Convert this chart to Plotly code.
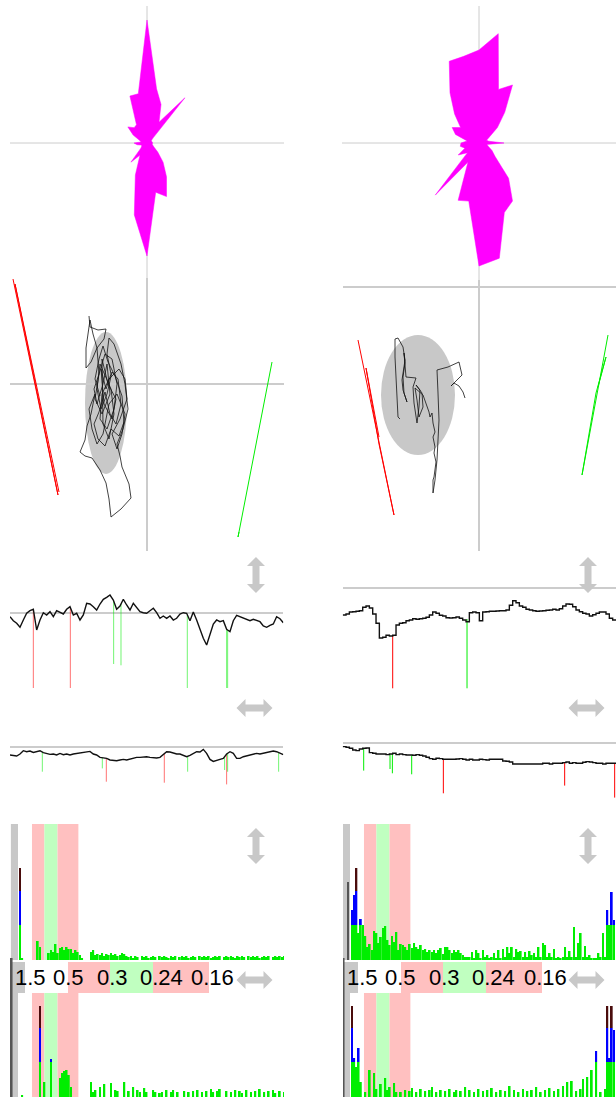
import numpy as np
import plotly.graph_objects as go

W, H = 616, 1097

# ---------------- data ----------------
ROSE_DIR = [0, 10, 20, 30, 40, 50, 60, 70, 80, 90, 100, 110, 120, 130, 140, 150, 160, 170,
            180, 190, 200, 210, 220, 230, 240, 250, 260, 270, 280, 290, 300, 310, 320, 330, 340, 350]
ROSE_L = [123, 55, 41, 24, 59, 8, 5, 5, 5, 6, 5, 6, 8, 14, 25, 39, 57, 50,
          113, 73, 34, 14, 25, 8, 6, 6, 10, 13, 6, 8, 16, 25, 20, 21, 50, 50]
ROSE_R = [93, 111, 57, 67, 40, 24, 12, 8, 10, 25, 8, 10, 15, 21, 46, 67, 74, 117,
          123, 59, 61, 22, 68, 15, 24, 15, 19, 18, 12, 25, 31, 24, 38, 58, 87, 88]

TRAJ_L = [(-58, 68), (-57, 57), (-49, 54), (-41, 55), (-43, 45), (-50, 36), (-56, 22), (-61, 16),
          (-61, 36), (-59, 52), (-57, 64), (-54, 50), (-50, 36), (-48, 10), (-53, -5), (-50, -20),
          (-44, 0), (-40, 20), (-37, -10), (-45, -30), (-52, -15), (-48, 10), (-42, 30), (-35, 25),
          (-30, 0), (-33, -25), (-40, -45), (-47, -35), (-45, -10), (-38, 5), (-28, 15), (-22, 5),
          (-20, -15), (-27, -35), (-35, -50), (-30, -65), (-25, -50), (-22, -30), (-30, -10),
          (-38, -20), (-44, -50), (-50, -60), (-55, -45), (-58, -25), (-52, -10), (-56, -30),
          (-60, -42), (-62, -56), (-67, -68), (-62, -72), (-55, -74), (-47, -86), (-41, -99),
          (-38, -115), (-36, -133), (-26, -125), (-16, -114), (-18, -100), (-25, -83), (-27, -72),
          (-30, -60), (-24, -45), (-19, -25), (-22, 0), (-26, 20), (-33, 40), (-38, 46), (-40, 30),
          (-36, 10), (-41, -5), (-46, 15), (-43, -20), (-35, -35), (-31, -15), (-39, 0), (-45, 25),
          (-44, -40), (-38, -55), (-33, -30), (-36, -5), (-47, 20), (-50, -5), (-46, -25),
          (-40, -10), (-35, 12), (-29, 5), (-26, -20), (-31, -40), (-37, -30), (-42, -8),
          (-48, -28), (-53, -40), (-49, -55), (-42, -62), (-36, -45), (-28, -52), (-23, -38),
          (-25, -12), (-32, 8), (-39, 22), (-44, 38), (-48, 25), (-52, 5), (-47, -12)]
TRAJ_R = [(-79, -132), (-81, -130), (-82, -110), (-83, -90), (-84, -70), (-84, -52), (-81, -51),
          (-76, -60), (-74, -73), (-77, -93), (-76, -103), (-72, -115), (-75, -106), (-76, -90),
          (-74, -76), (-75, -66), (-73, -90), (-63, -91), (-66, -100), (-65, -116), (-62, -136),
          (-60, -120), (-59, -103), (-63, -98), (-57, -106), (-56, -120), (-60, -130), (-62, -113),
          (-64, -101), (-56, -108), (-53, -116), (-50, -125), (-49, -130), (-47, -126), (-46, -136),
          (-44, -145), (-46, -150), (-44, -160), (-45, -166), (-43, -175), (-45, -190), (-46, -193),
          (-46, -206), (-44, -193), (-42, -173), (-41, -153), (-40, -133), (-41, -106), (-42, -83),
          (-31, -80), (-20, -75), (-17, -88), (-24, -95), (-28, -99), (-25, -96), (-20, -99),
          (-16, -105), (-14, -111)]
RED_L_X, RED_L_Y = [-134, -89, -132, -88], [105, -111, 100, -108]
GREEN_L_X, GREEN_L_Y = [125, 91, 123, 92], [22, -153, 15, -148]
RED_R_X, RED_R_Y = [-121, -85, -100, -113, -100], [-53, -228, -157, -81, -150]
GREEN_R_X, GREEN_R_Y = [129, 103, 117, 127, 119], [-48, -188, -106, -70, -100]
ELLIPSE_L_CENTER, ELLIPSE_L_SEMI = [-41, -19], [21, 71]
ELLIPSE_R_CENTER, ELLIPSE_R_SEMI = [-61, -108], [37, 60]

TS1_L = [-3.7, -7.7, -10.3, -14.3, -7, -0.3, 2.3, 3.7, -17, -7,
         0.3, -2, 1.3, -3.7, 2.3, 0.3, -1, 3.7, 6.3, -2,
         -0.3, -7, -2, 9.7, 9, 6.3, 3, 9, 13.7, 15.7,
         18, 13, 3.7, 7, 13.7, 8, 3, 9.7, 5.7, 1.3,
         0.3, -0.3, 2.3, 4.7, 0.3, -5.3, -3, -5.3, -3, -7,
         -5.3, -1, 0.3, -0.3, -7.7, 1, -7, -17, -25.3, -32,
         -22, -11, -7, -8.7, -7.7, -16.3, -18.7, -7.7, -2.3, -3.7,
         -5.3, -7, -7.7, -6.3, -7.7, -8.7, -13, -14.3, -12.3, -11,
         -3.7, -5.7, -9.7]
TS1_R = [-27, -26, -24, -23.7, -23.3, -22.7, -19.3, -18, -20, -26,
         -35.3, -50, -49.3, -47.3, -48, -47.3, -37, -35.3, -34.7, -32.7,
         -32, -30.7, -31.3, -30.7, -30.3, -29.3, -27, -24, -25.3, -27.3,
         -28, -29.7, -30, -29.7, -29, -30.3, -32, -33.7, -24.7, -24,
         -24.7, -32.7, -24, -23.7, -23.3, -23.3, -23, -22.7, -22.7, -22,
         -17.3, -12.7, -14.7, -18, -19.3, -21.3, -22, -22.7, -23.3, -23,
         -22.7, -22.3, -22, -21.3, -22, -20.7, -18, -16, -16.3, -18.7,
         -22, -23.7, -25.3, -26, -28, -26.7, -25.3, -24, -24, -26,
         -30.3, -32, -31.7]
TS2_L = [-8.3, -9, -9.3, -7.3, -4, -5, -4.3, -5.7, -5, -4,
         -6, -6.7, -7.7, -7.3, -8.3, -6.7, -8, -7.3, -8.3, -7.3,
         -6.7, -6, -5.7, -5, -4.7, -7.3, -8.3, -10.7, -11.3, -11.7,
         -13.3, -14, -14, -13.3, -12.7, -13.3, -12.3, -11.7, -10.7, -10.7,
         -10, -10, -10.7, -11.3, -11.3, -10.7, -8, -5, -5.3, -6.7,
         -7.3, -7.3, -8.3, -10, -8.7, -6.7, -5, -5.3, -2.7, -6.7,
         -12.7, -14.7, -13.3, -12.7, -11.7, -7.3, -5, -6.7, -11.7, -11.7,
         -10, -9.3, -8.3, -7.3, -6.7, -7.3, -6.7, -6, -5, -4.3,
         -5, -6.7, -8]
TS2_R = [-3.3, -4, -5, -6.7, -7.3, -5.7, -5, -4.7, -9.3, -10,
         -10.7, -10.7, -10.7, -11.3, -10.7, -10, -11.3, -10.7, -11.3, -11.7,
         -11.7, -12, -11.3, -12, -12.7, -14, -15.3, -16, -15, -15.3,
         -16, -16, -16, -16, -15.7, -15.3, -16, -16.7, -16, -16.7,
         -16.7, -16, -16.3, -16.7, -16, -16, -16, -16, -17.7, -18,
         -18.7, -20.7, -20.7, -20.7, -20.7, -20.7, -20.7, -20.7, -20.7, -20.7,
         -20, -20, -20.7, -20, -20, -20, -19.3, -18.7, -20, -19.3,
         -20, -20, -19, -18.3, -18.7, -19.3, -20, -20, -20.7, -20,
         -20, -20, -20]
# events: (sample index, end value, kind)
EV1_L = [(7, -75, "r"), (18.1, -75, "r"), (31.1, -51, "g"), (33.3, -52.3, "g"),
         (53.2, -75, "g"), (65, -75, "g"), (65.3, -75, "g")]
EV1_R = [(15, -100.3, "r"), (37.3, -100.3, "g")]
EV2_L = [(9.7, -25, "g"), (27.7, -21.7, "g"), (28.9, -35, "r"), (46.3, -36, "r"),
         (53.3, -25, "g"), (64.4, -23.3, "g"), (65, -37.7, "r"), (65.3, -25, "g"), (80.6, -25, "g")]
EV2_R = [(6.3, -27.3, "g"), (14.2, -25.7, "g"), (14.9, -30, "g"), (20.7, -31, "g"),
         (30.2, -50, "r"), (66.6, -42.3, "r"), (81.6, -54.3, "r")]

SPEC_TOP_L = [92, 2, 0, 0, 0, 0, 0, 0, 19, 13,
              0, 0, 0, 7, 10, 8, 16, 7, 12, 13,
              10, 13, 11, 11, 7, 10, 8, 5, 2, 0,
              0, 0, 8, 10, 5, 6, 5, 7, 4, 6,
              5, 7, 5, 6, 4, 5, 7, 6, 4, 3,
              4, 2, 4, 3, 0, 4, 3, 4, 2, 3,
              4, 3, 0, 4, 3, 4, 3, 2, 4, 3,
              4, 0, 3, 4, 3, 4, 2, 3, 4, 3,
              0, 4, 3, 4, 3, 4, 2, 3, 4, 3,
              4, 0, 3, 4, 3, 4, 3, 2, 4, 3,
              4, 3, 0, 4, 3, 4, 3, 4, 2, 3,
              4, 3, 4, 0, 3, 4, 3, 4, 3, 4]
SPEC_TOP_R = [50, 65, 92, 27, 41, 35, 24, 13, 16, 10,
              29, 27, 17, 23, 32, 34, 20, 15, 24, 18,
              28, 10, 16, 15, 13, 10, 16, 12, 17, 13,
              11, 15, 10, 11, 8, 10, 8, 10, 7, 10,
              12, 6, 13, 13, 10, 7, 10, 8, 10, 7,
              5, 3, 3, 3, 8, 2, 10, 7, 2, 10,
              3, 5, 2, 3, 7, 2, 10, 2, 11, 3,
              13, 7, 13, 3, 11, 8, 9, 3, 8, 3,
              9, 5, 7, 3, 13, 3, 17, 15, 3, 7,
              3, 11, 2, 3, 2, 3, 13, 3, 9, 3,
              33, 3, 17, 27, 3, 14, 3, 5, 2, 2,
              2, 7, 3, 27, 3, 50, 35, 68, 40, 0]
SPEC_BOT_L = [0, 2, 0, 0, 0, 0, 0, 0, 0, 91,
              0, 15, 0, 0, 38, 0, 0, 0, 19, 24,
              26, 27, 22, 10, 0, 0, 0, 0, 0, 0,
              0, 0, 15, 5, 7, 0, 10, 0, 13, 0,
              0, 14, 0, 7, 6, 0, 0, 15, 0, 6,
              0, 10, 0, 7, 5, 0, 9, 5, 0, 0,
              7, 5, 0, 4, 5, 0, 7, 0, 5, 7,
              0, 5, 0, 0, 6, 0, 5, 0, 6, 0,
              7, 0, 5, 0, 6, 0, 8, 5, 0, 6,
              8, 0, 0, 6, 0, 5, 0, 7, 0, 6,
              4, 0, 7, 0, 5, 0, 6, 0, 8, 0,
              5, 0, 6, 0, 7, 4, 0, 6, 0, 5]
SPEC_BOT_R = [91, 39, 30, 49, 15, 0, 5, 0, 27, 0,
              24, 8, 0, 13, 0, 19, 7, 10, 0, 14,
              5, 0, 5, 0, 7, 0, 6, 9, 0, 5,
              0, 8, 0, 6, 0, 7, 10, 0, 5, 0,
              7, 0, 6, 0, 8, 0, 5, 7, 0, 6,
              0, 10, 0, 7, 0, 5, 0, 8, 0, 6,
              0, 7, 0, 9, 0, 5, 0, 7, 0, 6,
              0, 11, 0, 7, 0, 5, 0, 8, 0, 6,
              0, 7, 0, 10, 0, 5, 0, 7, 0, 9,
              0, 6, 0, 8, 0, 11, 0, 15, 0, 16,
              0, 6, 0, 8, 18, 0, 20, 0, 27, 0,
              46, 0, 5, 0, 8, 91, 39, 91, 67, 0]
LEVEL_TOP = [0, 78]      # dark level gauge, left / right (upper spectrum)
LEVEL_BOT = [139, 139]   # dark level gauge, left / right (lower spectrum)
BAND_EDGES = [5.4, 11.0, 16.9, 26.3]
STRIP_EDGES = [15, 58, 100, 143, 199]
STRIP_TICKS = [20, 58, 102, 151, 202]
STRIP_LABELS = ["1.5", "0.5", "0.3", "0.24", "0.16"]

# ---------------- styles ----------------
MAG = "#ff00ff"
RED = "#ff0000"
GRN = "#00ee00"
BLUE = "#0000ff"
DARK = "#4a0c0c"
LGRAY = "#c8c8c8"
PINK = "#ffc0c0"
LGREEN = "#c0ffc0"
T1, T2 = 35, 69


def xd(a, b):
    return [a / W, b / W]


def yd(top, bottom):
    return [1 - bottom / H, 1 - top / H]


def ax(domain, rng, anchor, zeroline=False, zw=1.5):
    return dict(domain=domain, range=rng, anchor=anchor, showgrid=False,
                showticklabels=False, ticks="", showline=False, zeroline=zeroline,
                zerolinecolor="#cccccc", zerolinewidth=zw, fixedrange=True)


fig = go.Figure()

# ---- rose plots ----
for rose, pname in ((ROSE_L, "polar"), (ROSE_R, "polar2")):
    fig.add_trace(go.Scatterpolar(r=rose + rose[:1], theta=ROSE_DIR + ROSE_DIR[:1],
                                  mode="lines", fill="toself", fillcolor=MAG,
                                  line=dict(color=MAG, width=0.5), subplot=pname,
                                  hoverinfo="skip"))

# ---- stabilograms ----
for traj, rx, ry, gx, gy, xa, ya in ((TRAJ_L, RED_L_X, RED_L_Y, GREEN_L_X, GREEN_L_Y, "x", "y"),
                                     (TRAJ_R, RED_R_X, RED_R_Y, GREEN_R_X, GREEN_R_Y, "x2", "y2")):
    fig.add_trace(go.Scatter(x=rx, y=ry, mode="lines", line=dict(color=RED, width=1),
                             xaxis=xa, yaxis=ya, hoverinfo="skip"))
    fig.add_trace(go.Scatter(x=gx, y=gy, mode="lines", line=dict(color=GRN, width=1),
                             xaxis=xa, yaxis=ya, hoverinfo="skip"))
    fig.add_trace(go.Scatter(x=[p[0] for p in traj], y=[p[1] for p in traj], mode="lines",
                             line=dict(color="#111111", width=0.8), xaxis=xa, yaxis=ya,
                             hoverinfo="skip"))


def event_traces(ts, events, xa, ya, alpha):
    t = np.arange(len(ts))
    out = []
    for kind, color in (("r", RED), ("g", GRN)):
        xs, ys = [], []
        for idx, end, k in events:
            if k != kind:
                continue
            top = float(np.interp(idx, t, ts))
            xs += [idx, idx, None]
            ys += [top, end, None]
        out.append(go.Scatter(x=xs, y=ys, mode="lines", line=dict(color=color, width=1),
                              opacity=alpha, xaxis=xa, yaxis=ya, hoverinfo="skip"))
    return out


for ts, ev, xa, ya, shape, alpha in ((TS1_L, EV1_L, "x3", "y3", "linear", 0.55),
                                     (TS1_R, EV1_R, "x4", "y4", "hv", 1.0),
                                     (TS2_L, EV2_L, "x5", "y5", "linear", 0.55),
                                     (TS2_R, EV2_R, "x6", "y6", "hv", 1.0)):
    for tr in event_traces(ts, ev, xa, ya, alpha):
        fig.add_trace(tr)
    fig.add_trace(go.Scatter(x=np.arange(len(ts)), y=ts, mode="lines",
                             line=dict(color="#111111", width=1.4, shape=shape),
                             xaxis=xa, yaxis=ya, hoverinfo="skip"))


def spectrum_traces(vals, xa, ya, full, level, light):
    v = np.array(vals, float)
    idx = np.arange(len(v))
    out = [go.Bar(x=[-2.5], y=[light], base=0, width=[3.2], marker=dict(color=LGRAY, line=dict(width=0)),
                  xaxis=xa, yaxis=ya, hoverinfo="skip")]
    if level > 0:
        out.append(go.Bar(x=[-3.8 if full else -1.8], y=[level], base=0, width=[0.9],
                          marker=dict(color="#555555", line=dict(width=0)),
                          xaxis=xa, yaxis=ya, hoverinfo="skip"))
    g = np.minimum(v, T1)
    b = np.clip(v - T1, 0, T2 - T1)
    d = np.maximum(v - T2, 0)
    for seg, base, col in ((g, 0, GRN), (b, T1, BLUE), (d, T2, DARK)):
        out.append(go.Bar(x=idx, y=seg, base=base, width=0.8,
                          marker=dict(color=col, line=dict(width=0)),
                          xaxis=xa, yaxis=ya, hoverinfo="skip"))
    return out


for vals, xa, ya, full, level, light in ((SPEC_TOP_L, "x7", "y7", False, LEVEL_TOP[0], 136),
                                         (SPEC_TOP_R, "x8", "y8", False, LEVEL_TOP[1], 136),
                                         (SPEC_BOT_L, "x9", "y9", True, LEVEL_BOT[0], 104),
                                         (SPEC_BOT_R, "x10", "y10", True, LEVEL_BOT[1], 104)):
    for tr in spectrum_traces(vals, xa, ya, full, level, light):
        fig.add_trace(tr)

# strip axes placeholders
for xa, ya in (("x11", "y11"), ("x12", "y12")):
    fig.add_trace(go.Scatter(x=[0], y=[0], mode="markers", marker=dict(opacity=0),
                             xaxis=xa, yaxis=ya, hoverinfo="skip"))

shapes = []
# ellipses
for (cx, cy), (sx, sy), xa, ya in ((ELLIPSE_L_CENTER, ELLIPSE_L_SEMI, "x", "y"),
                                   (ELLIPSE_R_CENTER, ELLIPSE_R_SEMI, "x2", "y2")):
    shapes.append(dict(type="circle", xref=xa, yref=ya, x0=cx - sx, x1=cx + sx,
                       y0=cy - sy, y1=cy + sy, fillcolor=LGRAY, line=dict(width=0), layer="below"))
# frequency bands
band_cols = [PINK, LGREEN, PINK]
for xa, (ytop, ybot) in (("x7", (824, 960)), ("x8", (824, 960)), ("x9", (993, 1097)), ("x10", (993, 1097))):
    for k in range(3):
        shapes.append(dict(type="rect", xref=xa, yref="paper", x0=BAND_EDGES[k], x1=BAND_EDGES[k + 1],
                           y0=1 - ybot / H, y1=1 - ytop / H, fillcolor=band_cols[k],
                           line=dict(width=0), layer="below"))
# label strips
strip_cols = [LGRAY, "#ffffff", PINK, LGREEN, PINK]
annotations = []
for xa in ("x11", "x12"):
    prev = 0
    for e, c in zip(STRIP_EDGES, strip_cols):
        shapes.append(dict(type="rect", xref=xa, yref="paper", x0=prev, x1=e,
                           y0=1 - 993 / H, y1=1 - 962 / H, fillcolor=c, line=dict(width=0), layer="below"))
        prev = e
    for tx, lab in zip(STRIP_TICKS, STRIP_LABELS):
        annotations.append(dict(x=tx, y=1 - 977.5 / H, xref=xa, yref="paper", text=lab,
                                showarrow=False, xanchor="center", yanchor="middle",
                                font=dict(family="Liberation Sans, sans-serif",
                                          size=22, color="#000000")))


# double arrows (decoration)
def arrow(kind, cx, cy, L=36, HW=18, HL=9, S=7):
    if kind == "v":
        pts = [(cx, cy - L / 2), (cx + HW / 2, cy - L / 2 + HL), (cx + S / 2, cy - L / 2 + HL),
               (cx + S / 2, cy + L / 2 - HL), (cx + HW / 2, cy + L / 2 - HL), (cx, cy + L / 2),
               (cx - HW / 2, cy + L / 2 - HL), (cx - S / 2, cy + L / 2 - HL),
               (cx - S / 2, cy - L / 2 + HL), (cx - HW / 2, cy - L / 2 + HL)]
    else:
        pts = [(cx - L / 2, cy), (cx - L / 2 + HL, cy - HW / 2), (cx - L / 2 + HL, cy - S / 2),
               (cx + L / 2 - HL, cy - S / 2), (cx + L / 2 - HL, cy - HW / 2), (cx + L / 2, cy),
               (cx + L / 2 - HL, cy + HW / 2), (cx + L / 2 - HL, cy + S / 2),
               (cx - L / 2 + HL, cy + S / 2), (cx - L / 2 + HL, cy + HW / 2)]
    path = "M " + " L ".join(f"{px / W:.5f},{1 - py / H:.5f}" for px, py in pts) + " Z"
    return dict(type="path", xref="paper", yref="paper", path=path, fillcolor=LGRAY,
                line=dict(width=0), layer="above")


for kind, cx, cy in (("v", 256, 575), ("h", 254.5, 708), ("v", 256, 846), ("h", 254.5, 980),
                     ("v", 588, 575), ("h", 586.5, 708), ("v", 588, 846), ("h", 586.5, 980)):
    shapes.append(arrow(kind, cx, cy))

polar_common = dict(bgcolor="rgba(0,0,0,0)",
                    radialaxis=dict(range=[0, 137], visible=False),
                    angularaxis=dict(rotation=90, direction="clockwise", dtick=90, showgrid=True,
                                     gridcolor="#cccccc", gridwidth=1, showline=False,
                                     showticklabels=False, ticks=""))

fig.update_layout(
    width=W, height=H, margin=dict(l=0, r=0, t=0, b=0), showlegend=False,
    paper_bgcolor="#ffffff", plot_bgcolor="rgba(0,0,0,0)", barmode="overlay",
    polar=dict(domain=dict(x=xd(10, 284), y=yd(6, 280)), **polar_common),
    polar2=dict(domain=dict(x=xd(342, 616), y=yd(6, 280)), **polar_common),
    xaxis=ax(xd(10, 284), [-137, 137], "y", True, 2.2),
    yaxis=ax(yd(278, 551), [-167, 106], "x", True, 2.2),
    xaxis2=ax(xd(343, 616), [-136, 137], "y2", True, 2.2),
    yaxis2=ax(yd(280, 551), [-264, 7], "x2", True, 2.2),
    xaxis3=ax(xd(10, 283.3), [0, 82], "y3"),
    yaxis3=ax(yd(555, 700), [-87, 58], "x3", True, 1.5),
    xaxis4=ax(xd(342.7, 616), [0, 82], "y4"),
    yaxis4=ax(yd(555, 700), [-112, 33], "x4", True, 1.5),
    xaxis5=ax(xd(10, 283.3), [0, 82], "y5"),
    yaxis5=ax(yd(720, 800), [-53.3, 26.7], "x5", True, 1.5),
    xaxis6=ax(xd(342.7, 616), [0, 82], "y6"),
    yaxis6=ax(yd(720, 800), [-56.7, 23.3], "x6", True, 1.5),
    xaxis7=ax(xd(10, 284), [-4.5, 118.9], "y7"),
    yaxis7=ax(yd(824, 960), [0, 136], "x7"),
    xaxis8=ax(xd(343, 616), [-4.05, 118.9], "y8"),
    yaxis8=ax(yd(824, 960), [0, 136], "x8"),
    xaxis9=ax(xd(10, 284), [-4.5, 118.9], "y9"),
    yaxis9=ax(yd(958, 1097), [0, 139], "x9"),
    xaxis10=ax(xd(343, 616), [-4.05, 118.9], "y10"),
    yaxis10=ax(yd(958, 1097), [0, 139], "x10"),
    xaxis11=ax(xd(10, 284), [0, 274], "y11"),
    yaxis11=ax(yd(962, 993), [0, 1], "x11"),
    xaxis12=ax(xd(343, 616), [0, 273], "y12"),
    yaxis12=ax(yd(962, 993), [0, 1], "x12"),
    shapes=shapes, annotations=annotations,
)

fig.write_html("out.html", config={"displayModeBar": False},
               post_script="document.body.style.margin='0';document.body.style.overflow='hidden';")
